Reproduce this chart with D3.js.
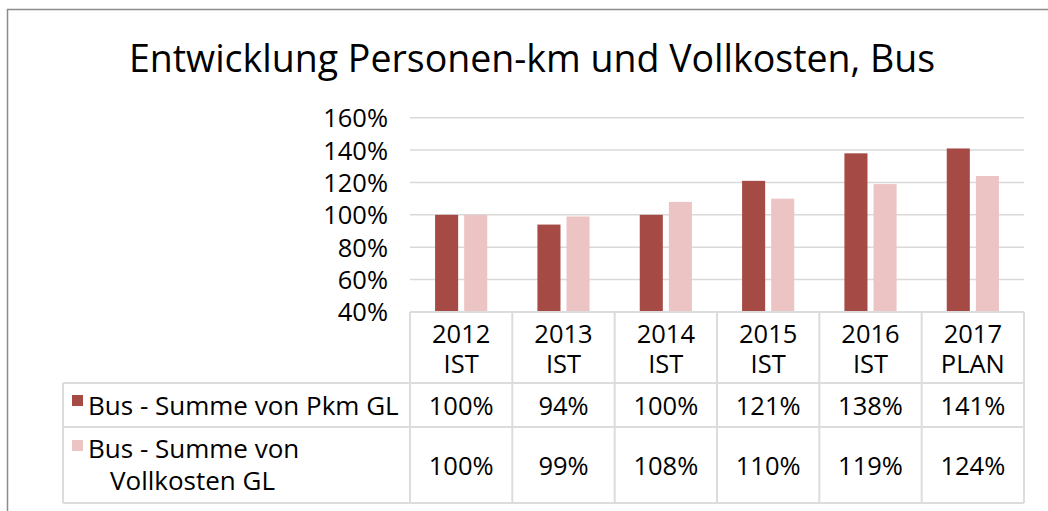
<!DOCTYPE html>
<html>
<head>
<meta charset="utf-8">
<script src="https://cdn.jsdelivr.net/npm/d3@7"></script>
<style>
  body { margin: 0; background: #fff; }
  svg text { font-family: "Open Sans", "Noto Sans", sans-serif; fill: #000; }
</style>
</head>
<body>
<div id="chart"></div>
<script>
// chart data
let years = ["2012", "2013", "2014", "2015", "2016", "2017"];
let kinds = ["IST", "IST", "IST", "IST", "IST", "PLAN"];
let seriesNames = ["Bus - Summe von Pkm GL", "Bus - Summe von Vollkosten GL"];
let pkm = [100, 94, 100, 121, 138, 141];
let vollkosten = [100, 99, 108, 110, 119, 124];
let yTicks = [40, 60, 80, 100, 120, 140, 160];

let colors = ["#a54a44", "#edc4c4"];

let svgWidth = 1048;
let svgHeight = 511;
let fs = 25.5;

// plot area
let plot = { left: 410, right: 1024, top: 117.7, bottom: 312 };
// table rows
let rowHead = 383, row1 = 427, row2 = 503, tableLeft = 63;

let svg = d3.select("#chart")
  .append("svg")
  .attr("width", svgWidth)
  .attr("height", svgHeight);

// outer frame
svg.append("rect")
  .attr("x", 7.5).attr("y", 9.5)
  .attr("width", 1100).attr("height", 600)
  .attr("fill", "none")
  .attr("stroke", "#8c8c8c")
  .attr("stroke-width", 1.5);

// title
svg.append("text")
  .attr("x", 532)
  .attr("y", 72)
  .attr("text-anchor", "middle")
  .attr("font-size", 37.5)
  .text("Entwicklung Personen-km und Vollkosten, Bus");

let yScale = d3.scaleLinear()
  .domain([40, 160])
  .range([plot.bottom, plot.top]);

let x0 = d3.scaleBand()
  .domain(years)
  .range([plot.left, plot.right]);

let x1 = d3.scaleBand()
  .domain([0, 1])
  .range([0, x0.bandwidth()])
  .paddingInner(0.207)
  .paddingOuter(0.862);

// gridlines
svg.append("g")
  .selectAll("line")
  .data(yTicks.slice(1))
  .enter()
  .append("line")
  .attr("x1", plot.left)
  .attr("x2", plot.right)
  .attr("y1", d => yScale(d))
  .attr("y2", d => yScale(d))
  .attr("stroke", "#d9d9d9")
  .attr("stroke-width", 1.5);

// y axis labels
let leftAxis = d3.axisLeft(yScale)
  .tickValues(yTicks)
  .tickSize(0)
  .tickPadding(0)
  .tickFormat(d => d + "%");

let yAxis = svg.append("g")
  .attr("transform", "translate(388, 0)")
  .call(leftAxis);
yAxis.select(".domain").remove();
yAxis.selectAll("text")
  .attr("font-size", fs)
  .attr("font-family", "Open Sans")
  .attr("fill", "#000")
  .attr("dy", "0.35em");

// bars
let barData = [pkm, vollkosten];
barData.forEach(function(vals, s) {
  svg.append("g")
    .selectAll("rect")
    .data(vals)
    .enter()
    .append("rect")
    .attr("x", (d, i) => x0(years[i]) + x1(s))
    .attr("width", x1.bandwidth())
    .attr("y", d => yScale(d))
    .attr("height", d => yScale(40) - yScale(d))
    .attr("fill", colors[s]);
});

// data table lines
let lineColor = "#dcdcdc";
let grid = svg.append("g")
  .attr("stroke", lineColor)
  .attr("stroke-width", 2);

// horizontal lines
grid.append("line").attr("x1", plot.left).attr("x2", plot.right).attr("y1", plot.bottom).attr("y2", plot.bottom);
[rowHead, row1, row2].forEach(function(yy) {
  grid.append("line").attr("x1", tableLeft).attr("x2", plot.right).attr("y1", yy).attr("y2", yy);
});
// vertical lines
grid.append("line").attr("x1", tableLeft).attr("x2", tableLeft).attr("y1", rowHead).attr("y2", row2);
years.forEach(function(yr) {
  let xx = x0(yr);
  grid.append("line").attr("x1", xx).attr("x2", xx).attr("y1", plot.bottom).attr("y2", row2);
});
grid.append("line").attr("x1", plot.right).attr("x2", plot.right).attr("y1", plot.bottom).attr("y2", row2);

// category header (two lines in one text)
svg.append("g")
  .selectAll("text")
  .data(years)
  .enter()
  .append("text")
  .attr("text-anchor", "middle")
  .attr("font-size", fs)
  .each(function(yr, i) {
    let cx = x0(yr) + x0.bandwidth() / 2;
    let t = d3.select(this);
    t.append("tspan").attr("x", cx).attr("y", 343).text(yr);
    t.append("tspan").attr("x", cx).attr("y", 373).text(kinds[i]);
  });

// values rows
let rowBaselines = [415, 475];
barData.forEach(function(vals, s) {
  svg.append("g")
    .selectAll("text")
    .data(vals)
    .enter()
    .append("text")
    .attr("x", (d, i) => x0(years[i]) + x0.bandwidth() / 2)
    .attr("y", rowBaselines[s])
    .attr("text-anchor", "middle")
    .attr("font-size", fs)
    .text(d => d + "%");
});

// legend keys
svg.append("rect")
  .attr("x", 72).attr("y", 395)
  .attr("width", 11).attr("height", 11)
  .attr("fill", colors[0]);
svg.append("rect")
  .attr("x", 72).attr("y", 440)
  .attr("width", 11).attr("height", 11)
  .attr("fill", colors[1]);

svg.append("text")
  .attr("x", 88).attr("y", 415)
  .attr("font-size", 26)
  .text(seriesNames[0]);
let leg2 = svg.append("text")
  .attr("font-size", 26);
leg2.append("tspan").attr("x", 88).attr("y", 458).text("Bus - Summe von");
leg2.append("tspan").attr("x", 110).attr("y", 490).text("Vollkosten GL");
</script>
</body>
</html>
